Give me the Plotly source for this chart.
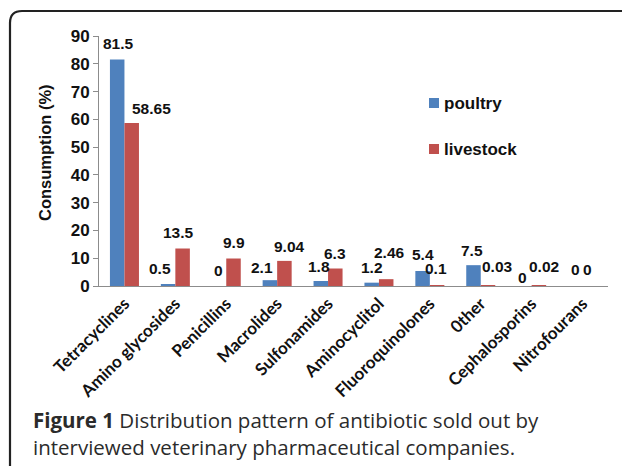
import plotly.graph_objects as go

categories = ["Tetracyclines", "Amino glycosides", "Penicillins", "Macrolides",
              "Sulfonamides", "Aminocyclitol", "Fluoroquinolones", "0ther",
              "Cephalosporins", "Nitrofourans"]
poultry = [81.5, 0.5, 0, 2.1, 1.8, 1.2, 5.4, 7.5, 0, 0]
livestock = [58.65, 13.5, 9.9, 9.04, 6.3, 2.46, 0.1, 0.03, 0.02, 0]
poultry_labels = ["81.5", "0.5", "0", "2.1", "1.8", "1.2", "5.4", "7.5", "0", "0"]
livestock_labels = ["58.65", "13.5", "9.9", "9.04", "6.3", "2.46", "0.1", "0.03", "0.02", "0"]
series_names = ["poultry", "livestock"]
y_ticks = [0, 10, 20, 30, 40, 50, 60, 70, 80, 90]

# label pixel offsets (dx, dy) relative to bar top centre (style only)
poultry_off = [(1, 16), (-8, 16), (0, 16), (-8, 13), (-2, 15), (0, 15), (0, 17), (-1, 15), (-2, 9), (0, 17)]
livestock_off = [(20, 15), (-4, 16), (0, 16), (5, 14), (0, 15), (3, 27), (-1, 17), (9, 19), (5, 19), (-2, 17)]

BLUE = "#4F81BD"
RED = "#C0504D"
OFF = 8                      # page body margin
W, H = 630 - OFF, 466 - OFF  # figure size so it fits the window
# plot area in page pixels
PL, PR, PT, PB = 99, 608, 36, 286
ML, MR, MT, MB = PL - OFF, OFF + W - PR, PT - OFF, OFF + H - PB
PW, PH = PR - PL, PB - PT
HALF = PW / len(categories) * 0.57 / 4  # half bar width offset in px

def xp(px):
    return (px - PL) / PW

def yp(py):
    return (PB - py) / PH

fig = go.Figure()
fig.add_trace(go.Bar(x=categories, y=poultry, name=series_names[0], marker_color=BLUE,
                     marker_line_width=0, showlegend=False))
fig.add_trace(go.Bar(x=categories, y=livestock, name=series_names[1], marker_color=RED,
                     marker_line_width=0, showlegend=False))

lab_font = dict(family="Liberation Sans, Arial", size=15.5, color="#111")
for c, v, t, (dx, dy) in zip(categories, poultry, poultry_labels, poultry_off):
    fig.add_annotation(x=c, y=v, text="<b>%s</b>" % t, showarrow=False,
                       xshift=-HALF + dx, yshift=dy, yanchor="middle", font=lab_font)
for c, v, t, (dx, dy) in zip(categories, livestock, livestock_labels, livestock_off):
    fig.add_annotation(x=c, y=v, text="<b>%s</b>" % t, showarrow=False,
                       xshift=HALF + dx, yshift=dy, yanchor="middle", font=lab_font)

# legend (drawn by hand to match spacing)
leg_font = dict(family="Liberation Sans, Arial", size=17, color="#111")
for name, col, cy in zip(series_names, [BLUE, RED], [103, 149]):
    fig.add_shape(type="rect", xref="paper", yref="paper",
                  x0=xp(429), x1=xp(439), y0=yp(cy - 5), y1=yp(cy + 5),
                  fillcolor=col, line_width=0)
    fig.add_annotation(xref="paper", yref="paper", x=xp(442), y=yp(cy), xanchor="left",
                       yanchor="middle", showarrow=False, font=leg_font,
                       text="<b>%s</b>" % name)

# y-axis title
fig.add_annotation(xref="paper", yref="paper", x=xp(45), y=yp(153), textangle=-90,
                   showarrow=False, xanchor="center", yanchor="middle",
                   text="<b>Consumption (%)</b>",
                   font=dict(family="Liberation Sans, Arial", size=16.5, color="#111"))

cap_font = dict(family="Open Sans", size=20.5, color="#2b2b2b")
fig.add_annotation(xref="paper", yref="paper", x=xp(31), y=yp(420), xanchor="left",
                   yanchor="middle", showarrow=False, font=cap_font,
                   text="<b>Figure 1</b> Distribution pattern of antibiotic sold out by")
fig.add_annotation(xref="paper", yref="paper", x=xp(31), y=yp(447), xanchor="left",
                   yanchor="middle", showarrow=False, font=cap_font,
                   text="interviewed veterinary pharmaceutical companies.")

r = 12
path = ("M %f,%f L %f,%f Q %f,%f %f,%f L %f,%f Q %f,%f %f,%f" % (
    xp(10), yp(470), xp(10), yp(11 + r), xp(10), yp(11), xp(10 + r), yp(11),
    xp(624), yp(11), xp(629), yp(11), xp(631), yp(16)))
fig.add_shape(type="path", path=path, xref="paper", yref="paper",
              line=dict(color="#222", width=2.2))

fig.update_layout(
    width=W, height=H, autosize=False,
    margin=dict(l=ML, r=MR, t=MT, b=MB, pad=0),
    paper_bgcolor="white", plot_bgcolor="white",
    barmode="group", bargap=0.43, bargroupgap=0,
    showlegend=False,
    font=dict(family="Liberation Sans, Arial"),
)
fig.update_yaxes(range=[0, 90], tickvals=y_ticks, ticktext=["<b>%d</b>" % t for t in y_ticks],
                 showgrid=False, zeroline=False, showline=True, linecolor="#8c8c8c",
                 linewidth=1, ticks="outside", ticklen=5, tickcolor="#8c8c8c",
                 tickfont=dict(family="Liberation Sans, Arial", size=17, color="#111"))
fig.update_xaxes(showgrid=False, showline=True, linecolor="#8c8c8c", linewidth=1,
                 ticks="", tickangle=-45,
                 ticktext=["<b>%s</b>" % c for c in categories], tickvals=categories,
                 tickfont=dict(family="Lato", size=17, color="#111"))

fig.write_html("out.html")
